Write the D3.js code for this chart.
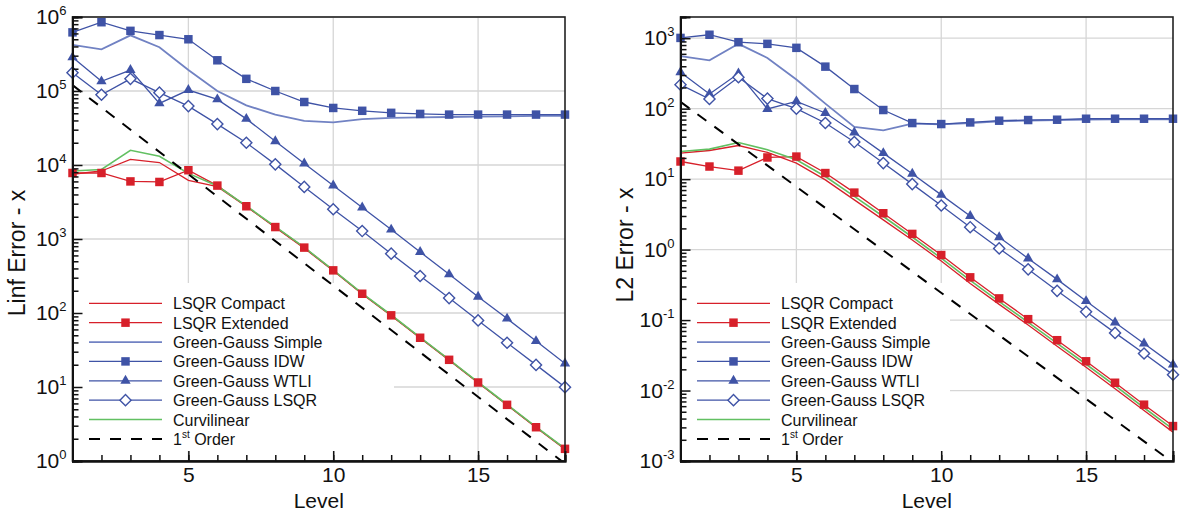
<!DOCTYPE html>
<html>
<head>
<meta charset="utf-8">
<script src="https://cdn.jsdelivr.net/npm/d3@7"></script>
<style>
  body { margin: 0; background: #fff; }
  text { font-family: "Liberation Sans", Arial, Helvetica, sans-serif; fill: #111; }
</style>
</head>
<body>
<svg id="chart" width="1180" height="512"></svg>
<script>
const levels = [1, 2, 3, 4, 5, 6, 7, 8, 9, 10, 11, 12, 13, 14, 15, 16, 17, 18];
const orderLevels = [1, 18];

const seriesNames = [
  "LSQR Compact",
  "LSQR Extended",
  "Green-Gauss Simple",
  "Green-Gauss IDW",
  "Green-Gauss WTLI",
  "Green-Gauss LSQR",
  "Curvilinear",
  "1st Order",
];

// Linf error
const linfCompact = [7.5e3, 8.3e3, 1.19e4, 1.08e4, 6.2e3, 5.1e3, 2.75e3, 1.43e3, 750, 372, 180, 92, 46, 23, 11.4, 5.7, 2.84, 1.44];
const linfExtended = [7.8e3, 7.8e3, 6.0e3, 5.9e3, 8.5e3, 5.27e3, 2.77e3, 1.45e3, 765, 377, 182, 93, 46.3, 23.3, 11.5, 5.74, 2.86, 1.46];
const linfSimple = [4.2e5, 3.65e5, 5.65e5, 3.9e5, 1.92e5, 1.0e5, 6.4e4, 4.8e4, 3.95e4, 3.76e4, 4.17e4, 4.34e4, 4.4e4, 4.45e4, 4.5e4, 4.55e4, 4.6e4, 4.6e4];
const linfIDW = [6.2e5, 8.5e5, 6.5e5, 5.7e5, 5.0e5, 2.6e5, 1.46e5, 1.0e5, 7.1e4, 5.9e4, 5.4e4, 5.07e4, 4.9e4, 4.8e4, 4.8e4, 4.8e4, 4.8e4, 4.8e4];
const linfWTLI = [2.85e5, 1.35e5, 1.92e5, 6.8e4, 1.03e5, 7.7e4, 4.2e4, 2.1e4, 1.05e4, 5.3e3, 2.66e3, 1.34e3, 667, 333, 166, 84, 41.7, 20.8];
const linfLSQR = [1.77e5, 8.9e4, 1.46e5, 9.5e4, 6.25e4, 3.57e4, 2.0e4, 1.02e4, 5.06e3, 2.52e3, 1.28e3, 634, 316, 159, 79.4, 39.6, 19.9, 9.95];
const linfCurv = [8.3e3, 8.7e3, 1.58e4, 1.31e4, 7.7e3, 5.2e3, 2.8e3, 1.47e3, 770, 380, 184, 94, 47, 23.5, 11.6, 5.8, 2.9, 1.47];
const linfOrder = [1.2e5, 0.92];

// L2 error
const l2Compact = [23.4, 25.5, 30, 23.9, 16.9, 9.77, 5.08, 2.64, 1.37, 0.69, 0.33, 0.167, 0.085, 0.0425, 0.0214, 0.0106, 0.0052, 0.00257];
const l2Extended = [17.8, 15.1, 13.2, 20.3, 20.9, 12.2, 6.44, 3.28, 1.67, 0.837, 0.404, 0.203, 0.103, 0.0518, 0.026, 0.0129, 0.0063, 0.00313];
const l2Simple = [555, 486, 832, 525, 259, 118, 55, 49.1, 61.2, 60, 62.5, 66, 68, 69, 70, 70.5, 70.5, 70.5];
const l2IDW = [1010, 1120, 877, 832, 730, 395, 190, 95.7, 62.5, 60.5, 63.8, 67.5, 69, 69.7, 72, 72, 72, 72];
const l2WTLI = [328, 162, 315, 99, 127, 86.9, 46, 23.4, 11.9, 5.98, 3.0, 1.5, 0.75, 0.378, 0.186, 0.0924, 0.0465, 0.0233];
const l2LSQR = [219, 137, 279, 139, 100, 62.6, 33.6, 16.9, 8.5, 4.22, 2.08, 1.04, 0.525, 0.26, 0.131, 0.0658, 0.0335, 0.0168];
const l2Curv = [24.7, 26.7, 33.1, 26.1, 18.8, 10.9, 5.7, 2.95, 1.51, 0.755, 0.365, 0.183, 0.093, 0.0467, 0.0236, 0.0117, 0.0057, 0.00283];
const l2Order = [125, 0.00095];

const xTicks = [5, 10, 15];
const linfTicks = [1e0, 1e1, 1e2, 1e3, 1e4, 1e5, 1e6];
const linfExps = ["0", "1", "2", "3", "4", "5", "6"];
const l2Ticks = [1e-3, 1e-2, 1e-1, 1e0, 1e1, 1e2, 1e3];
const l2Exps = ["-3", "-2", "-1", "0", "1", "2", "3"];

const red = "#d7202a";
const blue = "#3f53a6";
const lightBlue = "#7182c3";
const green = "#62c062";

const styles = [
  { color: red, width: 1.3, marker: null },
  { color: red, width: 1.3, marker: "square" },
  { color: lightBlue, width: 1.8, marker: null },
  { color: blue, width: 1.3, marker: "square" },
  { color: blue, width: 1.3, marker: "triangle" },
  { color: blue, width: 1.3, marker: "diamond" },
  { color: green, width: 1.6, marker: null },
  { color: "#000", width: 2, marker: null, dash: "11,10" },
];

const panels = [
  {
    id: "linf",
    left: 72.5, right: 565, top: 17, bottom: 461,
    domain: [1, 1e6],
    ticks: linfTicks, exps: linfExps,
    title: "Linf Error - x", titleX: 17, titleY: 253,
    series: [linfCompact, linfExtended, linfSimple, linfIDW, linfWTLI, linfLSQR, linfCurv, linfOrder],
    legendBox: [74, 283, 320, 168],
  },
  {
    id: "l2",
    left: 680.5, right: 1173, top: 17, bottom: 461,
    domain: [1e-3, 2e3],
    ticks: l2Ticks, exps: l2Exps,
    title: "L2 Error - x", titleX: 625, titleY: 245,
    series: [l2Compact, l2Extended, l2Simple, l2IDW, l2WTLI, l2LSQR, l2Curv, l2Order],
    legendBox: [682, 283, 268, 168],
  },
];

const svg = d3.select("#chart");

function minorTicks(domain) {
  const out = [];
  const lo = Math.floor(Math.log10(domain[0]));
  const hi = Math.ceil(Math.log10(domain[1]));
  for (let e = lo; e < hi; e++) {
    for (let m = 2; m <= 9; m++) {
      const v = m * Math.pow(10, e);
      if (v >= domain[0] && v <= domain[1]) out.push(v);
    }
  }
  return out;
}

function drawMarker(g, type, cx, cy, color) {
  if (type === "square") {
    g.append("path")
      .attr("d", d3.symbol(d3.symbolSquare, 72)())
      .attr("transform", `translate(${cx},${cy})`)
      .attr("fill", color);
  } else if (type === "triangle") {
    g.append("path")
      .attr("d", d3.symbol(d3.symbolTriangle, 46)())
      .attr("transform", `translate(${cx},${cy})`)
      .attr("fill", color);
  } else if (type === "diamond") {
    g.append("path")
      .attr("d", d3.symbol(d3.symbolSquare, 62)())
      .attr("transform", `translate(${cx},${cy}) rotate(45)`)
      .attr("fill", "#fff")
      .attr("stroke", color)
      .attr("stroke-width", 1.4);
  }
}

panels.forEach((p) => {
  const x = d3.scaleLinear().domain([1, 18]).range([p.left, p.right]);
  const y = d3.scaleLog().domain(p.domain).range([p.bottom, p.top]);
  const w = p.right - p.left;
  const h = p.bottom - p.top;

  svg.append("defs")
    .append("clipPath")
    .attr("id", `clip-${p.id}`)
    .append("rect")
    .attr("x", p.left)
    .attr("y", p.top)
    .attr("width", w)
    .attr("height", h);

  // grid
  const grid = svg.append("g").attr("stroke", "#d6d6d6").attr("stroke-width", 1.3);
  p.ticks.forEach((t) => {
    grid.append("line")
      .attr("x1", p.left).attr("x2", p.right)
      .attr("y1", y(t)).attr("y2", y(t));
  });
  xTicks.forEach((t) => {
    grid.append("line")
      .attr("x1", x(t)).attr("x2", x(t))
      .attr("y1", p.top).attr("y2", p.bottom);
  });

  // legend background hides grid behind it
  svg.append("rect")
    .attr("x", p.legendBox[0]).attr("y", p.legendBox[1])
    .attr("width", p.legendBox[2]).attr("height", p.legendBox[3])
    .attr("fill", "#fff");

  const plot = svg.append("g").attr("clip-path", `url(#clip-${p.id})`);
  const marks = svg.append("g");

  p.series.forEach((vals, i) => {
    const st = styles[i];
    const xs = vals.length === 2 ? orderLevels : levels;
    const pts = vals.map((v, k) => [xs[k], v]);
    const line = d3.line().x((d) => x(d[0])).y((d) => y(d[1]));
    plot.append("path")
      .attr("d", line(pts))
      .attr("fill", "none")
      .attr("stroke", st.color)
      .attr("stroke-width", st.width)
      .attr("stroke-dasharray", st.dash || null);
    if (st.marker) {
      pts.forEach((d) => drawMarker(marks, st.marker, x(d[0]), y(d[1]), st.color));
    }
  });

  // frame
  svg.append("rect")
    .attr("x", p.left).attr("y", p.top)
    .attr("width", w).attr("height", h)
    .attr("fill", "none")
    .attr("stroke", "#222")
    .attr("stroke-width", 1.6);

  // y axis: minor then major ticks, pointing inward
  const yMinor = svg.append("g")
    .attr("transform", `translate(${p.left},0)`)
    .call(d3.axisLeft(y).tickValues(minorTicks(p.domain)).tickSize(-6).tickFormat(""));
  const yMajor = svg.append("g")
    .attr("transform", `translate(${p.left},0)`)
    .call(d3.axisLeft(y).tickValues(p.ticks).tickSize(-10).tickPadding(6));
  [yMinor, yMajor].forEach((g) => {
    g.select(".domain").attr("stroke", "#111").attr("stroke-width", 2);
    g.selectAll(".tick line").attr("stroke", "#111").attr("stroke-width", 1.5);
  });
  yMajor.selectAll(".tick text").each(function (d, i) {
    const t = d3.select(this).text("").style("font-size", "21px").attr("fill", "#111");
    t.append("tspan").text("10");
    t.append("tspan").attr("dy", "-9").style("font-size", "13px").text(p.exps[i]);
  });

  // x axis
  const xMinor = svg.append("g")
    .attr("transform", `translate(0,${p.bottom})`)
    .call(d3.axisBottom(x).tickValues(levels).tickSize(-6).tickFormat(""));
  const xMajor = svg.append("g")
    .attr("transform", `translate(0,${p.bottom})`)
    .call(d3.axisBottom(x).tickValues(xTicks).tickSize(-10).tickPadding(6));
  [xMinor, xMajor].forEach((g) => {
    g.select(".domain").attr("stroke", "#111").attr("stroke-width", 2);
    g.selectAll(".tick line").attr("stroke", "#111").attr("stroke-width", 1.5);
  });
  xMajor.selectAll(".tick text").style("font-size", "21px").attr("fill", "#111");

  // titles
  svg.append("text")
    .attr("x", (p.left + p.right) / 2)
    .attr("y", 508)
    .attr("text-anchor", "middle")
    .style("font-size", "21px")
    .text("Level");
  svg.append("text")
    .attr("transform", `translate(${p.titleX + 8},${p.titleY}) rotate(-90)`)
    .attr("text-anchor", "middle")
    .style("font-size", "23px")
    .text(p.title);

  // legend
  const lx0 = p.left + 16.5;
  const lx1 = lx0 + 73;
  const leg = svg.append("g");
  seriesNames.forEach((name, i) => {
    const st = styles[i];
    const ly = 303.3 + i * 19.37;
    leg.append("line")
      .attr("x1", lx0).attr("x2", lx1)
      .attr("y1", ly).attr("y2", ly)
      .attr("stroke", st.color)
      .attr("stroke-width", st.width)
      .attr("stroke-dasharray", st.dash || null);
    if (st.marker) drawMarker(leg, st.marker, (lx0 + lx1) / 2, ly, st.color);
    const t = leg.append("text")
      .attr("x", lx1 + 11)
      .attr("y", ly + 6)
      .style("font-size", "16px");
    if (name === "1st Order") {
      t.append("tspan").text("1");
      t.append("tspan").attr("dy", "-7").style("font-size", "10px").text("st");
      t.append("tspan").attr("dy", "7").text(" Order");
    } else {
      t.text(name);
    }
  });
});
</script>
</body>
</html>
